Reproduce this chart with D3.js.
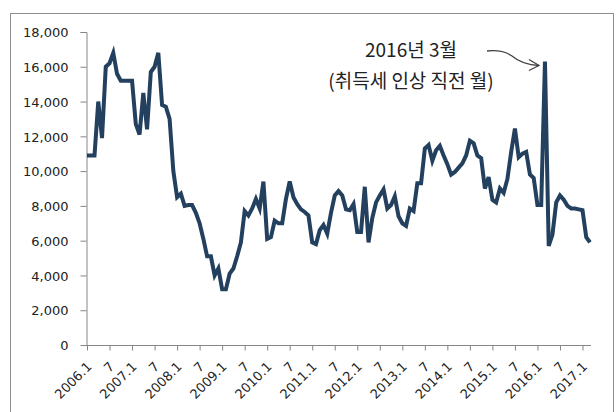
<!DOCTYPE html>
<html>
<head>
<meta charset="utf-8">
<script src="https://cdn.jsdelivr.net/npm/d3@7"></script>
<style>
  body { margin: 0; background: #fff; }
  svg { display: block; }
  .tickText { font-family: "DejaVu Sans", Verdana, sans-serif; font-size: 13px; fill: #222; }
  .noteText { font-family: "Noto Sans CJK KR", "Noto Sans", sans-serif; font-size: 19px; fill: #222; }
</style>
</head>
<body>
<div class="chart"></div>
<script>
// Monthly values, 2006.1 ~ 2017.3
var startYear = 2006;
var values = [
  10900, 10900, 10900, 14000, 11900, 16000, 16200, 16800, 15600, 15200, 15200, 15200,   // 2006
  15200, 12700, 12100, 14500, 12400, 15700, 16000, 16800, 13800, 13700, 13000, 10000,   // 2007
  8500, 8700, 8000, 8050, 8050, 7600, 7000, 6100, 5100, 5100, 4000, 4400,               // 2008
  3200, 3200, 4100, 4400, 5100, 5900, 7700, 7450, 7850, 8400, 7850, 9400,               // 2009
  6100, 6200, 7150, 7000, 7000, 8400, 9400, 8500, 8100, 7800, 7650, 7450,               // 2010
  5900, 5800, 6600, 6900, 6400, 7600, 8600, 8850, 8600, 7800, 7750, 8100,               // 2011
  6500, 6500, 9100, 5900, 7300, 8200, 8600, 8950, 7850, 8050, 8550, 7400,               // 2012
  7000, 6850, 7850, 7700, 9300, 9300, 11300, 11500, 10600, 11200, 11450, 10900,         // 2013
  10400, 9800, 9950, 10200, 10450, 10900, 11750, 11600, 10900, 10750, 9000, 9650,       // 2014
  8350, 8200, 9000, 8750, 9550, 11100, 12450, 10800, 11000, 11100, 9800, 9600,          // 2015
  8050, 8050, 16300, 5700, 6350, 8200, 8600, 8350, 8000, 7850, 7850, 7800,              // 2016
  7750, 6200, 5900                                                                      // 2017
];
var yTicks = [0, 2000, 4000, 6000, 8000, 10000, 12000, 14000, 16000, 18000];
var noteLines = ["2016년 3월", "(취득세 인상 직전 월)"];
var noteMonth = 122;   // 2016.3

// Month labels: "yyyy.1" in January, "7" in July
var monthLabels = values.map((v, i) => {
  var y = startYear + Math.floor(i / 12), m = i % 12 + 1;
  return m === 1 ? y + ".1" : (m === 7 ? "7" : "");
});

var svgWidth = 616;
var svgHeight = 412;

var svg = d3.select(".chart")
  .append("svg")
  .attr("width", svgWidth)
  .attr("height", svgHeight);

// Outer frame
svg.append("rect")
  .attr("x", 10.5).attr("y", 13.5)
  .attr("width", 603).attr("height", 420)
  .attr("fill", "none")
  .attr("stroke", "#8e8e8e")
  .attr("stroke-width", 1);

// Scales
var xScale = d3.scaleLinear().domain([0, values.length - 1]).range([87, 590]);
var yScale = d3.scaleLinear().domain([0, 18000]).range([345, 32]);

// Y axis
var yAxis = d3.axisLeft(yScale)
  .tickValues(yTicks)
  .tickSize(6)
  .tickPadding(12)
  .tickFormat(d3.format(","));

var yAxisGroup = svg.append("g")
  .attr("transform", "translate(86.5, 0)")
  .call(yAxis);
yAxisGroup.select(".domain").attr("stroke", "#868686").attr("d", "M-6,32.5H0.5V345.5");
yAxisGroup.selectAll(".tick line").attr("stroke", "#868686");
yAxisGroup.selectAll(".tick text").attr("class", "tickText").attr("dy", "0.36em");

// X axis, ticks every 6 months
var xTickIdx = d3.range(0, values.length, 6);
var xAxis = d3.axisBottom(xScale)
  .tickValues(xTickIdx)
  .tickSize(5)
  .tickFormat(i => monthLabels[i]);

var xAxisGroup = svg.append("g")
  .attr("transform", "translate(0, 345.5)")
  .call(xAxis);
xAxisGroup.select(".domain").attr("stroke", "#868686").attr("d", "M86,0H591");
xAxisGroup.selectAll(".tick line").attr("stroke", "#868686");
xAxisGroup.selectAll(".tick text")
  .attr("class", "tickText")
  .attr("text-anchor", "end")
  .attr("y", 0)
  .attr("dy", 0)
  .attr("transform", "translate(5, 22) rotate(-45)");

// Line
var line = d3.line()
  .x((d, i) => xScale(i))
  .y(d => yScale(d));

svg.append("path")
  .datum(values)
  .attr("fill", "none")
  .attr("stroke", "#23405f")
  .attr("stroke-width", 4)
  .attr("stroke-linejoin", "miter")
  .attr("stroke-miterlimit", 4)
  .attr("d", line);

// Annotation
svg.selectAll(".noteText")
  .data(noteLines)
  .enter()
  .append("text")
  .attr("class", "noteText")
  .attr("x", 411)
  .attr("y", (d, i) => 57 + i * 31)
  .attr("text-anchor", "middle")
  .text(d => d);

// Curved arrow pointing at the spike
var tipX = xScale(noteMonth) - 6;
var tipY = 65.5;
svg.append("path")
  .attr("d", `M487,51 C497,50 505,51 512,56 C519,62 527,65 ${tipX},${tipY}`)
  .attr("fill", "none")
  .attr("stroke", "#444")
  .attr("stroke-width", 1.3);
svg.append("path")
  .attr("d", `M${tipX - 10},59.5 L${tipX},${tipY} L${tipX - 10},70.5`)
  .attr("fill", "none")
  .attr("stroke", "#444")
  .attr("stroke-width", 1.3);
</script>
</body>
</html>
